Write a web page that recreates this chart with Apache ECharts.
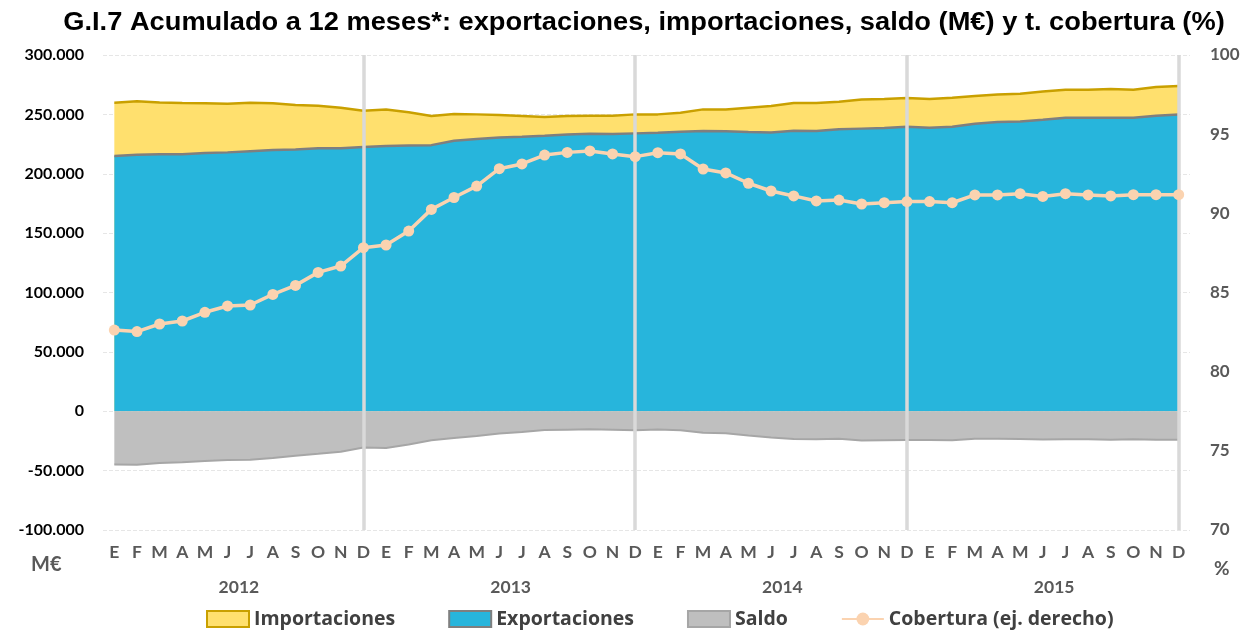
<!DOCTYPE html>
<html>
<head>
<meta charset="utf-8">
<script src="https://cdn.jsdelivr.net/npm/echarts@6/dist/echarts.min.js"></script>
<style>
  html, body { margin: 0; padding: 0; background: #fff; }
  #chart { width: 1251px; height: 631px; }
</style>
</head>
<body>
<div id="chart"></div>
<script>
const months = ['E','F','M','A','M','J','J','A','S','O','N','D',
  'E','F','M','A','M','J','J','A','S','O','N','D',
  'E','F','M','A','M','J','J','A','S','O','N','D',
  'E','F','M','A','M','J','J','A','S','O','N','D']
const years = ['2012', '2013', '2014', '2015']

// M€, acumulado a 12 meses
const importaciones = [
  259800, 261000, 260100, 259500, 259300, 259000, 259800, 259300, 257900, 257300, 255600, 253100,
  254200, 251700, 248600, 250300, 250000, 249400, 248600, 247800, 248600, 248900, 248900, 250000,
  250000, 251400, 254200, 254200, 255600, 257000, 259500, 259500, 260700, 262600, 262900, 263700,
  262900, 264000, 265400, 266800, 267400, 269300, 270700, 270700, 271300, 270700, 273000, 273900
]
const exportaciones = [
  215000, 216000, 216500, 216500, 217500, 218000, 219000, 220000, 220500, 221500, 221500, 222500,
  223300, 223700, 224100, 227800, 229200, 230600, 231200, 232000, 233100, 233700, 233400, 234000,
  234600, 235400, 236000, 235700, 235100, 234800, 236200, 236000, 237500, 238000, 238500, 239500,
  238700, 239600, 242200, 243600, 244100, 245500, 247200, 247200, 247200, 247200, 248900, 249800
]
const saldo = [
  -44800, -45000, -43600, -43000, -41800, -41000, -40800, -39300, -37400, -35800, -34100, -30600,
  -30900, -28000, -24500, -22500, -20800, -18800, -17400, -15800, -15500, -15200, -15500, -16000,
  -15400, -16000, -18200, -18500, -20500, -22200, -23300, -23500, -23200, -24600, -24400, -24200,
  -24200, -24400, -23200, -23200, -23300, -23800, -23500, -23500, -24100, -23500, -24100, -24100
]
// %
const cobertura = [
  82.63, 82.53, 83.01, 83.20, 83.75, 84.15, 84.21, 84.88, 85.45, 86.27, 86.67, 87.83,
  88.00, 88.88, 90.25, 91.00, 91.72, 92.82, 93.12, 93.68, 93.85, 93.94, 93.75, 93.58,
  93.83, 93.75, 92.80, 92.55, 91.90, 91.41, 91.10, 90.78, 90.84, 90.59, 90.67, 90.74,
  90.74, 90.67, 91.16, 91.16, 91.24, 91.07, 91.24, 91.16, 91.10, 91.18, 91.18, 91.18
]
// separadores de año (índice de cada diciembre)
const finAnio = [11, 23, 35, 47]

const labelFont = 'Lato, "Noto Sans", sans-serif'

const chart = echarts.init(document.getElementById('chart'))
const option = {
  animation: false,
  grid: {
    left: 103,
    right: 61,
    top: 55,
    bottom: 101
  },
  legend: {
    left: 201,
    top: 604,
    itemWidth: 42,
    itemHeight: 16,
    itemGap: 53,
    textStyle: {
      fontFamily: '"Open Sans", sans-serif',
      fontSize: 19.5,
      fontWeight: 'bold',
      color: '#404040'
    },
    data: [
      { name: 'Importaciones', icon: 'rect', itemStyle: { color: '#FFE06E', borderColor: '#C9A000', borderWidth: 2 } },
      { name: 'Exportaciones', icon: 'rect', itemStyle: { color: '#27B5DC', borderColor: '#7F7F7F', borderWidth: 2 } },
      { name: 'Saldo', icon: 'rect', itemStyle: { color: '#BFBFBF', borderColor: '#A6A6A6', borderWidth: 2 } },
      { name: 'Cobertura (ej. derecho)' }
    ]
  },
  graphic: [
    {
      type: 'text', x: 644, y: 23, scaleX: 1.09,
      style: {
        text: 'G.I.7 Acumulado a 12 meses*: exportaciones, importaciones, saldo (M€) y t. cobertura (%)',
        fontFamily: '"Liberation Sans", Arial, sans-serif',
        fontSize: 25, fontWeight: 'bold', fill: '#000',
        align: 'center', verticalAlign: 'middle'
      }
    },
    { type: 'text', left: 31, top: 555, style: { text: 'M€', fontFamily: labelFont, fontSize: 20, fontWeight: 'bold', fill: '#595959' } },
    { type: 'text', left: 1214, top: 559, style: { text: '%', fontFamily: labelFont, fontSize: 19, fontWeight: 'bold', fill: '#595959' } }
  ],
  xAxis: [
    {
      type: 'category',
      data: months,
      boundaryGap: true,
      axisLine: { show: false },
      axisTick: { show: false },
      axisLabel: {
        interval: 0,
        margin: 13,
        fontFamily: labelFont,
        fontSize: 17.5,
        fontWeight: 'bold',
        color: '#595959'
      },
      splitLine: { show: false }
    },
    {
      type: 'category',
      data: years,
      position: 'bottom',
      offset: 40,
      boundaryGap: true,
      axisLine: { show: false },
      axisTick: { show: false },
      axisLabel: {
        interval: 0,
        margin: 8,
        fontFamily: labelFont,
        fontSize: 17.5,
        fontWeight: 'bold',
        color: '#595959'
      }
    }
  ],
  yAxis: [
    {
      type: 'value',
      min: -100000,
      max: 300000,
      interval: 50000,
      axisLine: { show: false },
      axisTick: { show: false },
      axisLabel: {
        margin: 19,
        fontFamily: labelFont,
        fontSize: 16,
        fontWeight: 'bold',
        color: '#000',
        formatter: function (v) {
          return String(v).replace(/\B(?=(\d{3})+(?!\d))/g, '.')
        }
      },
      splitLine: { show: true, lineStyle: { type: 'dashed', color: '#E6E6E6', width: 1 } }
    },
    {
      type: 'value',
      min: 70,
      max: 100,
      interval: 5,
      position: 'right',
      axisLine: { show: false },
      axisTick: { show: false },
      axisLabel: {
        margin: 20,
        fontFamily: labelFont,
        fontSize: 17,
        fontWeight: 'bold',
        color: '#595959'
      },
      splitLine: { show: false }
    }
  ],
  series: [
    {
      name: 'Importaciones',
      type: 'line',
      data: importaciones,
      z: 1,
      symbol: 'none',
      lineStyle: { color: '#C9A000', width: 2.5 },
      itemStyle: { color: '#FFE06E' },
      areaStyle: { color: '#FFE06E', opacity: 1 }
    },
    {
      name: 'Exportaciones',
      type: 'line',
      data: exportaciones,
      z: 2,
      symbol: 'none',
      lineStyle: { color: '#7F7F7F', width: 2.5 },
      itemStyle: { color: '#27B5DC' },
      areaStyle: { color: '#27B5DC', opacity: 1 }
    },
    {
      name: 'Saldo',
      type: 'line',
      data: saldo,
      z: 3,
      symbol: 'none',
      lineStyle: { color: '#A6A6A6', width: 2 },
      itemStyle: { color: '#BFBFBF' },
      areaStyle: { color: '#BFBFBF', opacity: 1 },
      markLine: {
        silent: true,
        symbol: 'none',
        label: { show: false },
        lineStyle: { type: 'solid', color: '#D9D9D9', width: 3.5 },
        data: finAnio.map(function (i) { return { xAxis: i } })
      }
    },
    {
      name: 'Cobertura (ej. derecho)',
      type: 'line',
      yAxisIndex: 1,
      data: cobertura,
      z: 5,
      symbol: 'circle',
      symbolSize: 11,
      lineStyle: { color: '#FBD3B0', width: 3.5 },
      itemStyle: { color: '#FBD3B0' }
    }
  ]
}
chart.setOption(option)
window.addEventListener('resize', function () {
  chart.resize()
})
</script>
</body>
</html>
